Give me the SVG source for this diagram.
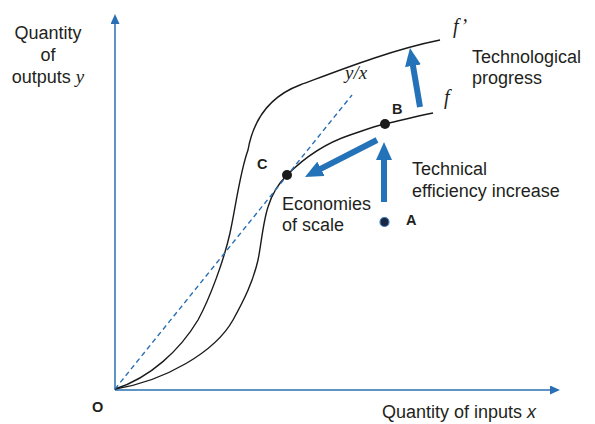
<svg xmlns="http://www.w3.org/2000/svg" width="595" height="424" viewBox="0 0 595 424">
  <style>
    .lbl { font-family: "Liberation Sans", Arial, sans-serif; font-size: 18px; fill: #231f20; }
    .pt { font-family: "Liberation Sans", Arial, sans-serif; font-size: 14.5px; font-weight: bold; fill: #231f20; }
    .math { font-family: "Liberation Serif", "Times New Roman", serif; font-style: italic; fill: #231f20; }
    .axis { stroke: #2a6fb3; stroke-width: 1.5; fill: none; }
    .curve { stroke: #1a1a1a; stroke-width: 1.4; fill: none; }
    .ray { stroke: #2a6fb3; stroke-width: 1.4; stroke-dasharray: 5 3.5; fill: none; }
    .move { stroke: #2473b8; stroke-width: 6; fill: none; }
    .dot { fill: #1a1a1a; }
  </style>
  <defs>
    <marker id="axisHead" markerUnits="userSpaceOnUse" viewBox="0 0 10 9" markerWidth="10" markerHeight="9" refX="1" refY="4.5" orient="auto">
      <path d="M0,0 L10,4.5 L0,9 z" fill="#2a6fb3"/>
    </marker>
    <marker id="moveHead" markerUnits="userSpaceOnUse" viewBox="0 0 18 16" markerWidth="18" markerHeight="16" refX="1" refY="8" orient="auto">
      <path d="M0,0 L18,8 L0,16 z" fill="#2473b8"/>
    </marker>
  </defs>

  <!-- axes -->
  <g id="axes">
    <line class="axis" x1="115" y1="390" x2="115" y2="23" marker-end="url(#axisHead)"/>
    <line class="axis" x1="115" y1="390" x2="551" y2="390" marker-end="url(#axisHead)"/>
    <text class="lbl" text-anchor="middle" x="48" y="39">Quantity</text>
    <text class="lbl" text-anchor="middle" x="48" y="61">of</text>
    <text class="lbl" text-anchor="middle" x="48" y="83">outputs <tspan class="math" font-size="19">y</tspan></text>
    <text class="lbl" x="382" y="418">Quantity of inputs <tspan font-style="italic">x</tspan></text>
    <text class="pt" x="92" y="411.5">O</text>
  </g>

  <!-- production frontiers and average-product ray -->
  <g id="frontier-f-prime">
    <path class="curve" d="M115,389 C150,378 180,350 198,320 C210,298 224,260 230,233 C236,205 240,172 248,150 C253,122 268,97 300,85 C335,72 390,50 440,40"/>
    <text class="math" x="453" y="33" font-size="20">f’</text>
  </g>
  <g id="frontier-f">
    <path class="curve" d="M115,389 C165,381 215,352 233,320 C244,300 253,282 258,260 C261,246 263,222 268,207 C271,197 278,184 287,175 C300,162 320,145 350,135 C362,131 372,127 385,124 C400,120.5 418,116 433,113"/>
    <text class="math" x="444" y="104" font-size="20">f</text>
  </g>
  <g id="ray-yx">
    <line class="ray" x1="115" y1="389" x2="352" y2="95"/>
    <text class="math" x="345" y="79" font-size="19">y/x</text>
  </g>

  <!-- firm positions -->
  <g id="point-A">
    <circle cx="384.5" cy="222" r="4.5" fill="#1c2541" stroke="#3a7cc0" stroke-width="1.2"/>
    <text class="pt" x="406" y="225">A</text>
  </g>
  <g id="point-B">
    <circle class="dot" cx="385" cy="124" r="5"/>
    <text class="pt" x="392" y="114">B</text>
  </g>
  <g id="point-C">
    <circle class="dot" cx="287" cy="175" r="5"/>
    <text class="pt" x="257" y="169">C</text>
  </g>

  <!-- movements between positions -->
  <g id="connectors">
    <line class="move" x1="420" y1="107" x2="412.8" y2="64.8" marker-end="url(#moveHead)"/>
    <line class="move" x1="384" y1="202" x2="384" y2="159" marker-end="url(#moveHead)"/>
    <line class="move" x1="377" y1="140" x2="320.1" y2="169.2" marker-end="url(#moveHead)"/>
  </g>

  <!-- movement captions -->
  <g id="caption-progress">
    <text class="lbl" x="472" y="63">Technological</text>
    <text class="lbl" x="472" y="84">progress</text>
  </g>
  <g id="caption-efficiency">
    <text class="lbl" x="412" y="175">Technical</text>
    <text class="lbl" x="412" y="197">efficiency increase</text>
  </g>
  <g id="caption-scale">
    <text class="lbl" x="282" y="210">Economies</text>
    <text class="lbl" x="282" y="231">of scale</text>
  </g>
</svg>
